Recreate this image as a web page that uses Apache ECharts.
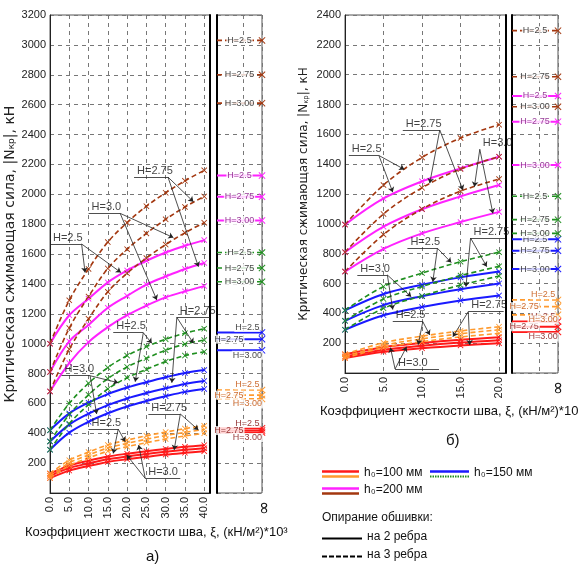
<!DOCTYPE html>
<html>
<head>
<meta charset="utf-8">
<script src="https://cdn.jsdelivr.net/npm/echarts@6/dist/echarts.min.js"></script>
<style>
  html, body { margin: 0; padding: 0; background: #fff; }
  #main { width: 578px; height: 570px; }
</style>
</head>
<body>
<div id="main"></div>
<script>
// ---------- data ----------
const hNames = ['H=2.5', 'H=2.75', 'H=3.0'];
const infNames = ['H=2.5', 'H=2.75', 'H=3.00'];

// а) ξ = 0 … 40
const xiA = [0, 5, 10, 15, 20, 25, 30, 35, 40];
const aRed = [      // h0=100, на 2 ребра
  [130, 183, 216, 244, 263, 280, 295, 309, 320],
  [115, 167, 198, 226, 245, 261, 276, 289, 300],
  [100, 150, 181, 208, 226, 242, 257, 269, 280]
];
const aOrange = [   // h0=100, на 3 ребра
  [130, 220, 274, 322, 354, 383, 408, 431, 450],
  [115, 202, 255, 301, 332, 360, 385, 406, 425],
  [100, 184, 235, 280, 310, 337, 361, 382, 400]
];
const aBlue = [     // h0=150, на 2 ребра
  [420, 533, 605, 662, 706, 742, 775, 803, 823],
  [345, 458, 531, 588, 633, 669, 701, 730, 750],
  [290, 404, 477, 534, 579, 616, 648, 677, 697]
];
const aGreen = [    // h0=150, на 3 ребра
  [420, 600, 735, 840, 920, 980, 1030, 1070, 1100],
  [345, 525, 657, 766, 844, 902, 956, 997, 1024],
  [290, 464, 592, 697, 772, 828, 880, 920, 946]
];
const aMagenta = [  // h0=200, на 2 ребра
  [1000, 1190, 1300, 1410, 1490, 1555, 1610, 1655, 1693],
  [810, 1015, 1125, 1240, 1320, 1395, 1450, 1500, 1540],
  [680, 870, 1010, 1110, 1190, 1255, 1310, 1350, 1385]
];
const aBrown = [    // h0=200, на 3 ребра
  [1000, 1290, 1500, 1680, 1810, 1920, 2010, 2090, 2160],
  [810, 1104, 1315, 1503, 1632, 1738, 1832, 1915, 1985],
  [680, 963, 1166, 1347, 1471, 1573, 1663, 1742, 1810]
];
// values at ξ = ∞
const aInfRed = [433, 418, 405];
const aInfOrange = [690, 655, 630];
const aInfBlue = [1075, 1030, 955];
const aInfGreen = [1610, 1506, 1414];
const aInfMagenta = [2125, 1983, 1825];
const aInfBrown = [3030, 2800, 2610];

// б) ξ = 0 … 20
const xiB = [0, 5, 10, 15, 20];
const bRed = [
  [125, 173, 201, 223, 240],
  [110, 156, 183, 204, 220],
  [100, 142, 166, 185, 200]
];
const bOrange = [
  [125, 203, 247, 282, 310],
  [110, 185, 229, 263, 290],
  [100, 170, 210, 242, 265]
];
const bBlue = [
  [420, 530, 592, 641, 680],
  [350, 455, 515, 562, 600],
  [290, 387, 442, 486, 520]
];
const bGreen = [
  [420, 580, 670, 746, 810],
  [350, 496, 580, 653, 715],
  [290, 434, 517, 589, 650]
];
const bMagenta = [
  [995, 1170, 1285, 1372, 1450],
  [810, 981, 1098, 1184, 1260],
  [680, 832, 936, 1012, 1080]
];
const bBrown = [
  [995, 1260, 1445, 1575, 1665],
  [810, 1066, 1242, 1367, 1450],
  [680, 928, 1099, 1219, 1300]
];
const bInfRed = [345, 310, 275];
const bInfOrange = [490, 445, 390];
const bInfBlue = [896, 820, 697];
const bInfGreen = [1185, 1028, 936];
const bInfMagenta = [1857, 1685, 1394];
const bInfBrown = [2295, 1986, 1785];

// callouts: [text, x from, x to, y of underline, arrows start ('r'|'l'), arrow targets]
const calloutsA = [
  ['H=2.75', 21.8, 30.6, 2115, 'r', [[37.2, 1950], [38.5, 1515]]],
  ['H=3.0', 10, 18.2, 1872, 'r', [[32, 1710], [27.7, 1292]]],
  ['H=2.5', 0, 8.2, 1667, 'r', [[9.1, 1476], [18.4, 1476]]],
  ['H=2.75', 32.9, 41.5, 1176, 'l', [[37.2, 1002], [31.6, 738]]],
  ['H=2.5', 16.4, 24.2, 1073, 'r', [[26.4, 1002], [22.1, 745]]],
  ['H=3.0', 3, 10.4, 785, 'r', [[17.7, 738], [12.1, 529]]],
  ['H=2.75', 25.5, 33.8, 529, 'r', [[38.5, 422], [32.2, 288]]],
  ['H=2.5', 10, 17.7, 428, 'r', [[19.5, 343], [16.4, 265]]],
  ['H=3.0', 24.7, 33.8, 98, 'l', [[19.9, 254], [23, 321]]]
];
const calloutsB = [
  ['H=2.75', 7.5, 12.3, 1629, 'r', [[11, 1272], [15.3, 1227]]],
  ['H=2.5', 0.5, 4.4, 1458, 'r', [[7.7, 1365], [6.2, 1212]]],
  ['H=3.0', 17.5, 21.7, 1500, 'l', [[16.8, 1249], [19.2, 1070]]],
  ['H=2.75', 16.3, 20.8, 905, 'l', [[18.4, 713], [15.7, 579]]],
  ['H=2.5', 8.1, 12, 836, 'r', [[13.8, 740], [11.4, 612]]],
  ['H=3.0', 1.6, 5.5, 657, 'r', [[8.6, 511], [6.2, 425]]],
  ['H=2.75', 16, 20.6, 411, 'l', [[14, 243], [16.2, 188]]],
  ['H=2.5', 6.2, 10.1, 344, 'r', [[11, 255], [9.5, 190]]],
  ['H=3.0', 6.5, 12.2, 27, 'l', [[5.9, 170], [8, 176]]]
];

// ---------- styles ----------
const FONT = '"Liberation Sans Narrow", "Liberation Sans", sans-serif';
const WIDE = '"DejaVu Sans", sans-serif';
const XSYM = 'path://M0,1L1,0L5,4L9,0L10,1L6,5L10,9L9,10L5,6L1,10L0,9L4,5Z';
const ST = {
  red:     { color: '#ff1a1a', dash: false, width: 2,   text: '#7a0000' },
  orange:  { color: '#ff9a2e', dash: true,  width: 1.6, text: '#c04a00' },
  blue:    { color: '#1a1aff', dash: false, width: 2,   text: '#111' },
  green:   { color: '#1f8f1f', dash: true,  width: 1.6, text: '#111' },
  magenta: { color: '#ff22ff', dash: false, width: 2,   text: '#7a007a' },
  brown:   { color: '#a3370f', dash: true,  width: 1.6, text: '#111' }
};
const INF_MAX = 1.7;
const CROWD = [{ x: 1.15, dy: -5 }, { x: 0.45, dy: 0 }, { x: 1.15, dy: 5 }];
const PLAIN = [{ x: 0.85, dy: 0 }, { x: 0.85, dy: 0 }, { x: 0.85, dy: 0 }];

function curves(grid, xi, sets, st) {
  return sets.map((vals, k) => ({
    type: 'line', xAxisIndex: grid, yAxisIndex: grid,
    data: xi.map((x, i) => [x, vals[i]]),
    smooth: 0.35, symbol: XSYM, symbolSize: 6,
    lineStyle: { color: st.color, width: st.width, type: st.dash ? [5, 3] : 'solid' },
    itemStyle: { color: st.color },
    silent: true, animation: false, z: 3
  }));
}

function infLines(grid, vals, st, place) {
  const out = vals.map(v => ({
    type: 'line', xAxisIndex: grid, yAxisIndex: grid,
    data: [{ value: [0, v], symbol: 'none' }, { value: [INF_MAX, v], symbol: XSYM, symbolSize: 7 }],
    lineStyle: { color: st.color, width: st.width, type: st.dash ? [5, 3] : 'solid' },
    itemStyle: { color: st.color },
    silent: true, animation: false, clip: false, z: 3
  }));
  out.push({
    type: 'scatter', xAxisIndex: grid, yAxisIndex: grid, symbolSize: 0,
    data: vals.map((v, k) => ({ value: [place[k].x, v], name: infNames[k], label: { offset: [0, place[k].dy] } })),
    label: {
      show: true, position: 'inside', formatter: p => p.name,
      fontFamily: FONT, fontSize: 9, color: st.text,
      backgroundColor: '#fff', padding: [0, 1]
    },
    silent: true, animation: false, z: 4
  });
  return out;
}

function callouts(grid, notes) {
  const lines = [];
  notes.forEach(n => {
    lines.push([{ coord: [n[1], n[3]], symbol: 'none' }, { coord: [n[2], n[3]], symbol: 'none' }]);
    const sx = n[4] === 'r' ? n[2] : n[1];
    n[5].forEach(t => lines.push([{ coord: [sx, n[3]], symbol: 'none' }, { coord: t, symbol: 'arrow' }]));
  });
  return {
    type: 'scatter', xAxisIndex: grid, yAxisIndex: grid, clip: false, symbolSize: 0,
    data: notes.map(n => ({ value: [n[1], n[3]], name: n[0] })),
    label: {
      show: true, formatter: p => p.name, position: [3, -12],
      fontFamily: FONT, fontSize: 11, color: '#111'
    },
    markLine: {
      silent: true, animation: false, symbolSize: 5,
      label: { show: false },
      lineStyle: { color: '#222', width: 0.8, type: 'solid' },
      data: lines
    },
    silent: true, animation: false, z: 10
  };
}

// ---------- chart ----------
const chart = echarts.init(document.getElementById('main'));

const dashed = { show: true, lineStyle: { color: '#777', type: [4, 4], width: 1 } };

function xMain(grid, max) {
  return {
    type: 'value', gridIndex: grid, min: 0, max: max, interval: 5,
    axisLine: { lineStyle: { color: '#222' } }, axisTick: { show: false },
    axisLabel: { rotate: 90, margin: 4, showMaxLabel: false, fontFamily: FONT, fontSize: 11, color: '#222',
      formatter: v => v.toFixed(1) },
    splitLine: dashed
  };
}
function xInf(grid) {
  return {
    type: 'value', gridIndex: grid, min: 0, max: INF_MAX, interval: 1,
    axisLine: { show: false }, axisTick: { show: false }, axisLabel: { show: false },
    splitLine: dashed
  };
}
function yMain(grid, max, name, gap, fs) {
  return {
    type: 'value', gridIndex: grid, min: 0, max: max, interval: 200,
    name: name, nameGap: gap, nameLocation: 'middle',
    nameTextStyle: { fontFamily: WIDE, fontSize: fs, color: '#222',
      rich: { s: { fontSize: fs - 5, fontFamily: WIDE, color: '#222', padding: [4, 0, 0, 0] } } },
    axisLine: { show: true, lineStyle: { color: '#222' } }, axisTick: { show: false },
    axisLabel: { showMinLabel: false, margin: 4, fontFamily: FONT, fontSize: 11, color: '#222',
      formatter: v => String(v) },
    splitLine: dashed
  };
}
function yInf(grid, max) {
  return {
    type: 'value', gridIndex: grid, min: 0, max: max, interval: 200,
    axisLine: { show: true, lineStyle: { color: '#000', width: 2 } },
    axisTick: { show: false }, axisLabel: { show: false }, splitLine: dashed
  };
}
function yEdge(grid, max) {
  return {
    type: 'value', gridIndex: grid, min: 0, max: max, position: 'right',
    axisLine: { show: true, lineStyle: { color: '#000', width: 2 } },
    axisTick: { show: false }, axisLabel: { show: false }, splitLine: { show: false }
  };
}

const gridBox = { show: true, borderColor: '#555', borderWidth: 1, containLabel: false };
const yTitle = 'Критическая сжимающая сила, |N{s|кр}|, кН';

const series = [].concat(
  curves(0, xiA, aRed, ST.red), curves(0, xiA, aOrange, ST.orange),
  curves(0, xiA, aBlue, ST.blue), curves(0, xiA, aGreen, ST.green),
  curves(0, xiA, aMagenta, ST.magenta), curves(0, xiA, aBrown, ST.brown),
  infLines(1, aInfRed, ST.red, CROWD), infLines(1, aInfOrange, ST.orange, CROWD),
  infLines(1, aInfBlue, ST.blue, CROWD), infLines(1, aInfGreen, ST.green, PLAIN),
  infLines(1, aInfMagenta, ST.magenta, PLAIN), infLines(1, aInfBrown, ST.brown, PLAIN),
  curves(2, xiB, bRed, ST.red), curves(2, xiB, bOrange, ST.orange),
  curves(2, xiB, bBlue, ST.blue), curves(2, xiB, bGreen, ST.green),
  curves(2, xiB, bMagenta, ST.magenta), curves(2, xiB, bBrown, ST.brown),
  infLines(3, bInfRed, ST.red, CROWD), infLines(3, bInfOrange, ST.orange, CROWD),
  infLines(3, bInfBlue, ST.blue, PLAIN), infLines(3, bInfGreen, ST.green, PLAIN),
  infLines(3, bInfMagenta, ST.magenta, PLAIN), infLines(3, bInfBrown, ST.brown, PLAIN),
  [callouts(0, calloutsA), callouts(2, calloutsB)]
);

const txt = (x, y, s, fs, extra) => ({
  type: 'text', x: x, y: y, silent: true,
  style: Object.assign({ text: s, fontFamily: FONT, fontSize: fs, fill: '#111' }, extra || {})
});
const seg = (x1, y1, x2, y2, color, w, dash) => ({
  type: 'line', silent: true,
  shape: { x1: x1, y1: y1, x2: x2, y2: y2 },
  style: { stroke: color, lineWidth: w, lineDash: dash || null }
});
const inf = (x, y) => ({
  type: 'text', x: x, y: y, rotation: -Math.PI / 2, silent: true,
  style: { text: '∞', fontFamily: WIDE, fontSize: 17, fill: '#111', align: 'center', verticalAlign: 'middle' }
});

const graphic = [
  txt(25, 526, 'Коэффициент жесткости шва, ξ, (кН/м²)*10³', 13),
  txt(146, 549, 'а)', 15),
  txt(320, 405, 'Коэффициент жесткости шва, ξ, (кН/м²)*10³', 13),
  txt(446, 433, 'б)', 15),
  inf(263, 508),
  inf(557, 388),
  // legend
  seg(322, 471.5, 359, 471.5, ST.red.color, 2.5), seg(322, 476.5, 359, 476.5, ST.orange.color, 2.5),
  txt(364, 467, 'h₀=100 мм', 12),
  seg(430, 471.5, 469, 471.5, ST.blue.color, 2.5), seg(430, 476.5, 469, 476.5, ST.green.color, 2, [1.5, 1]),
  txt(474, 467, 'h₀=150 мм', 12),
  seg(322, 488.5, 359, 488.5, ST.magenta.color, 2.5), seg(322, 493.5, 359, 493.5, ST.brown.color, 2.5),
  txt(364, 484, 'h₀=200 мм', 12),
  txt(322, 512, 'Опирание обшивки:', 12),
  seg(322, 538.5, 362, 538.5, '#000', 2), txt(367, 531, 'на 2 ребра', 12),
  seg(322, 556.5, 362, 556.5, '#000', 2, [5, 2]), txt(367, 549, 'на 3 ребра', 12)
];

chart.setOption({
  backgroundColor: '#fff',
  animation: false,
  grid: [
    Object.assign({ left: 50, top: 15, width: 160, height: 478 }, gridBox),
    Object.assign({ left: 217, top: 15, width: 45, height: 478 }, gridBox),
    Object.assign({ left: 345, top: 15, width: 161, height: 358 }, gridBox),
    Object.assign({ left: 512, top: 15, width: 46, height: 358 }, gridBox)
  ],
  xAxis: [xMain(0, 41.5), xInf(1), xMain(2, 20.9), xInf(3)],
  yAxis: [
    yMain(0, 3200, yTitle, 33, 14),
    yInf(1, 3200),
    yMain(2, 2400, yTitle, 35, 12),
    yInf(3, 2400),
    yEdge(0, 3200),
    yEdge(2, 2400)
  ],
  series: series,
  graphic: graphic
});
</script>
</body>
</html>
